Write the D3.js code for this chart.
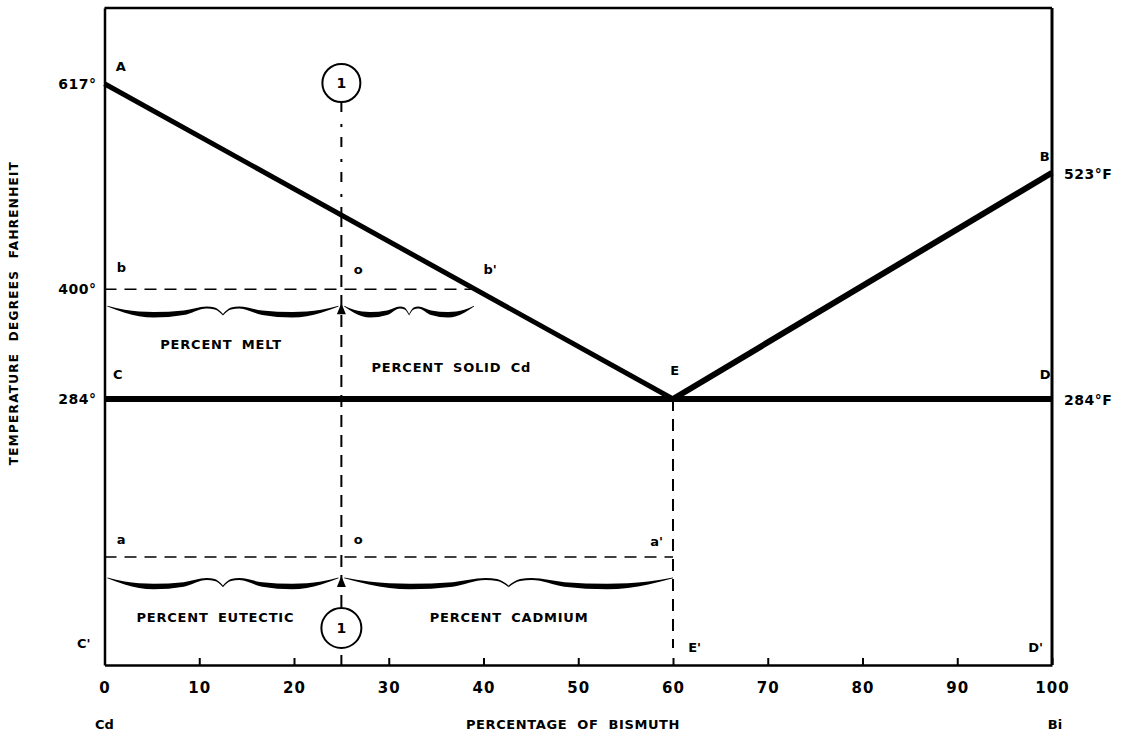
<!DOCTYPE html>
<html>
<head>
<meta charset="utf-8">
<script src="https://cdn.jsdelivr.net/npm/d3@7"></script>
<style>
  html, body { margin: 0; padding: 0; background: #fff; }
  svg text { font-family: "DejaVu Sans", Lato, sans-serif; font-weight: 700; fill: #000; }
</style>
</head>
<body>
<svg id="chart" width="1125" height="737"></svg>
<script>
// ---------------- DATA ----------------
const xTicks = [0, 10, 20, 30, 40, 50, 60, 70, 80, 90, 100];
const tempLabelsLeft = [ {temp: 617, text: "617°"}, {temp: 400, text: "400°"}, {temp: 284, text: "284°"} ];
const tempLabelsRight = [ {temp: 523, text: "523°F"}, {temp: 284, text: "284°F"} ];
// liquidus curves (percent bismuth, temperature °F)
const liquidusCd = [ {pct: 0, temp: 617}, {pct: 60, temp: 284} ];
const liquidusBi = [ {pct: 60, temp: 284}, {pct: 100, temp: 523} ];
const eutecticLine = [ {pct: 0, temp: 284}, {pct: 100, temp: 284} ];
// tie lines (lever rule)
const tieLineUpper = [ {pct: 0, temp: 400}, {pct: 39.1, temp: 400} ];
const tieLineLower = [ {pct: 0, temp: 117}, {pct: 60, temp: 117} ];
const alloyPct = 25;       // composition line (1)
const eutecticPct = 60;    // E
const eutecticTemp = 284;
// braces (percent spans) and their temperature levels
const braces = [
  {from: 0.3, to: 24.7, temp: 382},
  {from: 25.3, to: 39.0, temp: 382},
  {from: 0.3, to: 24.7, temp: 95},
  {from: 25.3, to: 60.0, temp: 95}
];
const pointLabels = [
  {text: "A", pct: 1.2, temp: 630},
  {text: "B", pct: 98.7, temp: 535},
  {text: "C", pct: 0.9, temp: 305},
  {text: "D", pct: 98.7, temp: 305},
  {text: "E", pct: 59.7, temp: 309},
  {text: "b", pct: 1.3, temp: 418},
  {text: "o", pct: 26.3, temp: 416},
  {text: "b'", pct: 40, temp: 416},
  {text: "a", pct: 1.3, temp: 131},
  {text: "o", pct: 26.3, temp: 131},
  {text: "a'", pct: 57.6, temp: 129},
  {text: "E'", pct: 61.6, temp: 17},
  {text: "D'", pct: 97.5, temp: 17}
];
const regionLabels = [
  {text: "PERCENT MELT", pct: 12.3, temp: 337},
  {text: "PERCENT SOLID Cd", pct: 36.6, temp: 312},
  {text: "PERCENT EUTECTIC", pct: 11.7, temp: 48},
  {text: "PERCENT CADMIUM", pct: 42.7, temp: 48}
];

// ---------------- SCALES ----------------
const svg = d3.select("#chart");
const x = d3.scaleLinear().domain([0, 100]).range([104.5, 1052]);
const y = d3.scaleLinear().domain([3, 697]).range([665, 8]);
const line = d3.line().x(d => x(d.pct)).y(d => y(d.temp));

// ---------------- FRAME ----------------
const frame = svg.append("g");
frame.append("line").attr("x1", x(0)).attr("x2", x(100)).attr("y1", y(697)).attr("y2", y(697))
  .attr("stroke", "#000").attr("stroke-width", 2.5);
frame.append("line").attr("x1", x(100)).attr("x2", x(100)).attr("y1", y(697)).attr("y2", y(3))
  .attr("stroke", "#000").attr("stroke-width", 3);

// bottom axis with inward ticks
const xAxis = d3.axisBottom(x).tickValues(xTicks).tickSize(-7).tickSizeOuter(0).tickPadding(17)
  .tickFormat(d3.format("d"));
const gx = svg.append("g").attr("transform", `translate(0,${y(3)})`).call(xAxis);
gx.select(".domain").attr("stroke", "#000").attr("stroke-width", 2.5);
gx.selectAll(".tick line").attr("stroke", "#000").attr("stroke-width", 2);
gx.selectAll(".tick text").attr("font-size", 15).attr("font-family", "DejaVu Sans, sans-serif")
  .attr("font-weight", 700).attr("letter-spacing", 1);

// left axis (no ticks)
const yAxis = d3.axisLeft(y).tickValues([]).tickSizeOuter(0);
const gy = svg.append("g").attr("transform", `translate(${x(0)},0)`).call(yAxis);
gy.select(".domain").attr("stroke", "#000").attr("stroke-width", 2.5);

// temperature labels
svg.selectAll("text.tl").data(tempLabelsLeft).enter().append("text")
  .attr("x", x(0) - 8).attr("y", d => y(d.temp) + 5).attr("text-anchor", "end")
  .attr("font-size", 14).attr("letter-spacing", 0.5).text(d => d.text);
svg.selectAll("text.tr").data(tempLabelsRight).enter().append("text")
  .attr("x", x(100) + 12).attr("y", d => y(d.temp) + 6).attr("text-anchor", "start")
  .attr("font-size", 14).attr("letter-spacing", 0.5).text(d => d.text);

// ---------------- DASHED GUIDES ----------------
const dashed = "12,8";
svg.append("path").datum(tieLineUpper).attr("d", line).attr("fill", "none")
  .attr("stroke", "#000").attr("stroke-width", 1.5).attr("stroke-dasharray", dashed);
svg.append("path").datum(tieLineLower).attr("d", line).attr("fill", "none")
  .attr("stroke", "#000").attr("stroke-width", 1.5).attr("stroke-dasharray", dashed);

// composition line at 25 %
const liqAt25 = 617 - (617 - 284) * alloyPct / 60;
const topCircle = {cx: x(alloyPct), cy: 83, r: 19};
const botCircle = {cx: x(alloyPct), cy: 628, r: 20};
svg.append("line").attr("x1", x(alloyPct)).attr("x2", x(alloyPct))
  .attr("y1", topCircle.cy + topCircle.r).attr("y2", y(liqAt25))
  .attr("stroke", "#000").attr("stroke-width", 2).attr("stroke-dasharray", "10,12,3,10");
svg.append("line").attr("x1", x(alloyPct)).attr("x2", x(alloyPct))
  .attr("y1", y(liqAt25)).attr("y2", y(3))
  .attr("stroke", "#000").attr("stroke-width", 2).attr("stroke-dasharray", dashed);

// eutectic composition line
svg.append("line").attr("x1", x(eutecticPct)).attr("x2", x(eutecticPct))
  .attr("y1", y(eutecticTemp)).attr("y2", 648)
  .attr("stroke", "#000").attr("stroke-width", 2).attr("stroke-dasharray", dashed);

// ---------------- MAIN LINES ----------------
svg.append("path").datum(eutecticLine).attr("d", line).attr("fill", "none")
  .attr("stroke", "#000").attr("stroke-width", 6);
svg.append("path").datum(liquidusCd).attr("d", line).attr("fill", "none")
  .attr("stroke", "#000").attr("stroke-width", 5).attr("stroke-linecap", "butt");
svg.append("path").datum(liquidusBi).attr("d", line).attr("fill", "none")
  .attr("stroke", "#000").attr("stroke-width", 6).attr("stroke-linecap", "butt");

// ---------------- BRACES ----------------
const h = 10;
const halfProfile = [ // u along half (end->middle), sag fraction, thickness
  [0.00, 0.00, 0.8], [0.15, 0.50, 3.0], [0.40, 0.85, 5.5], [0.66, 0.65, 4.5],
  [0.86, 0.12, 2.0], [0.93, 0.22, 2.0], [1.00, 0.85, 1.6]
];
const area = d3.area().x(d => d[0]).y0(d => d[1] - d[2] / 2).y1(d => d[1] + d[2] / 2).curve(d3.curveMonotoneX);
braces.forEach(b => {
  const x1 = x(b.from), x2 = x(b.to), xm = (x1 + x2) / 2, y0 = y(b.temp);
  const left = halfProfile.map(p => [x1 + p[0] * (xm - x1), y0 + p[1] * h, p[2]]);
  const right = halfProfile.slice().reverse().map(p => [x2 - p[0] * (x2 - xm), y0 + p[1] * h, p[2]]);
  svg.append("path").attr("d", area(left)).attr("fill", "#000");
  svg.append("path").attr("d", area(right)).attr("fill", "#000");
});

// arrowheads pointing up
[y(382) - 3, y(95) - 2].forEach(tip => {
  const cx = x(alloyPct);
  svg.append("path").attr("d", `M${cx},${tip} L${cx - 4.5},${tip + 11} L${cx + 4.5},${tip + 11} Z`).attr("fill", "#000");
});

// circles "1"
[topCircle, botCircle].forEach(c => {
  svg.append("circle").attr("cx", c.cx).attr("cy", c.cy).attr("r", c.r)
    .attr("fill", "#fff").attr("stroke", "#000").attr("stroke-width", 2);
  svg.append("text").attr("x", c.cx).attr("y", c.cy + 5).attr("text-anchor", "middle")
    .attr("font-size", 14).text("1");
});

// ---------------- LABELS ----------------
svg.selectAll("text.pl").data(pointLabels).enter().append("text")
  .attr("x", d => x(d.pct)).attr("y", d => y(d.temp)).attr("font-size", 13).text(d => d.text);
svg.append("text").attr("x", 77).attr("y", 648).attr("font-size", 13).text("C'");

svg.selectAll("text.rl").data(regionLabels).enter().append("text")
  .attr("x", d => x(d.pct)).attr("y", d => y(d.temp)).attr("text-anchor", "middle")
  .attr("font-size", 13).attr("letter-spacing", 0.8).attr("word-spacing", 4).text(d => d.text);

// axis titles
svg.append("text").attr("x", x(0)).attr("y", 729).attr("text-anchor", "middle").attr("font-size", 13).text("Cd");
svg.append("text").attr("x", x(100) + 3).attr("y", 729).attr("text-anchor", "middle").attr("font-size", 13).text("Bi");
svg.append("text").attr("x", 573).attr("y", 729).attr("text-anchor", "middle").attr("font-size", 13)
  .attr("letter-spacing", 0.6).attr("word-spacing", 5).text("PERCENTAGE OF BISMUTH");
svg.append("text").attr("transform", "translate(18,313) rotate(-90)").attr("text-anchor", "middle")
  .attr("font-size", 12).attr("letter-spacing", 1.3).attr("word-spacing", 6).text("TEMPERATURE DEGREES FAHRENHEIT");
</script>
</body>
</html>
